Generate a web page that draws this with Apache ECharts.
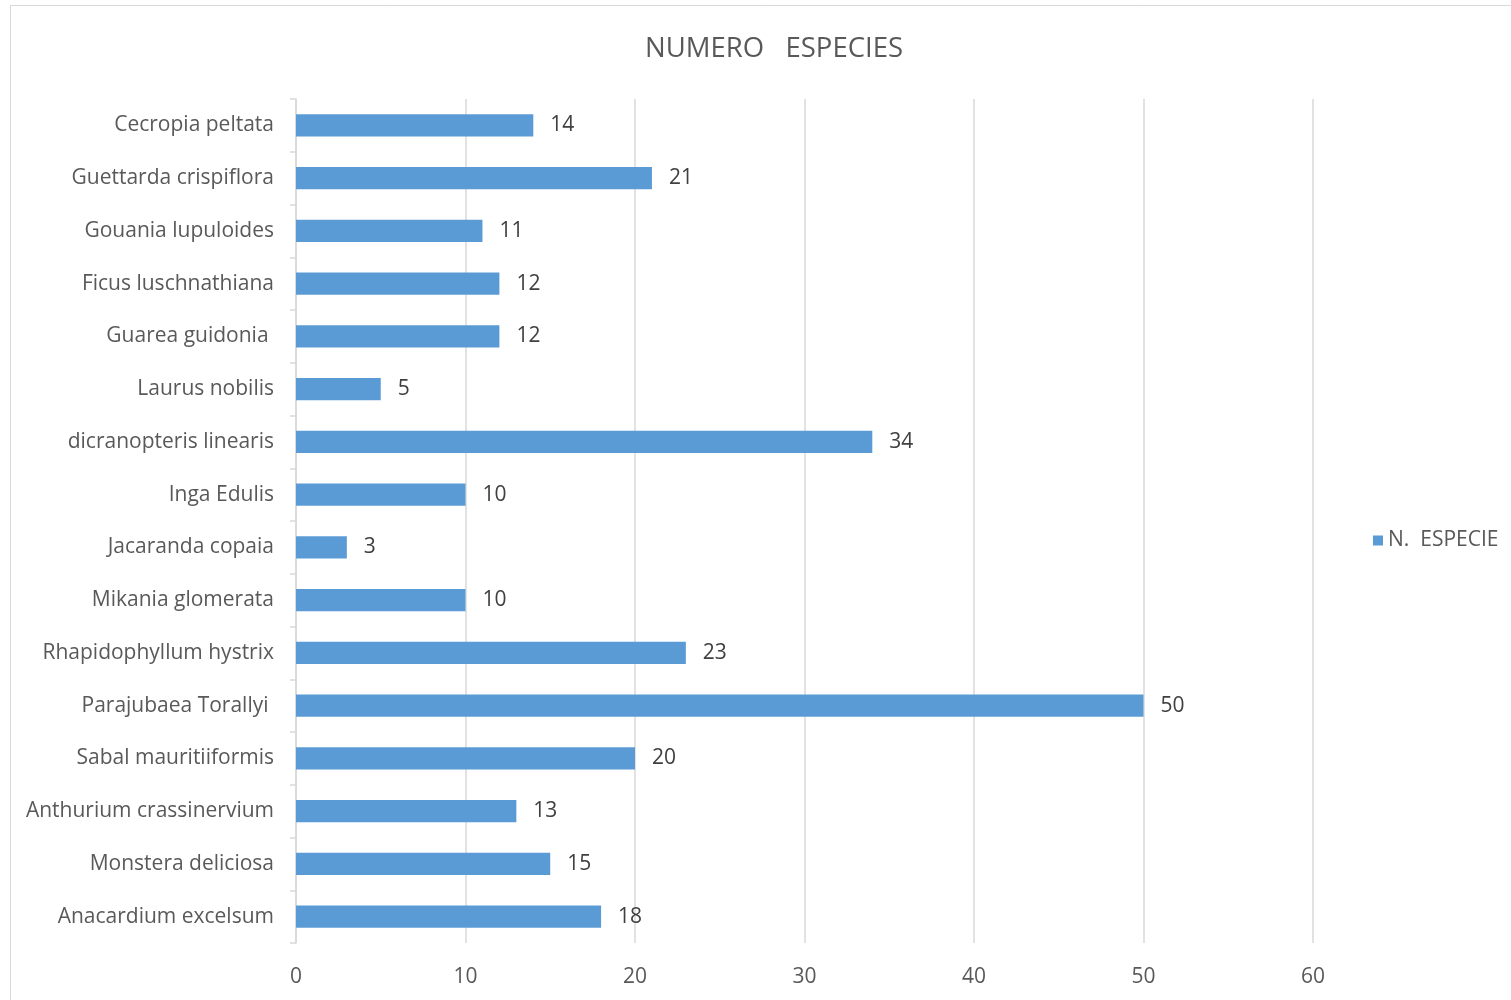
<!DOCTYPE html>
<html><head><meta charset="utf-8">
<script src="https://cdn.jsdelivr.net/npm/echarts@6/dist/echarts.min.js"></script>
<style>html,body{margin:0;padding:0;background:#fff}#c{width:1511px;height:1000px}</style>
</head><body><div id="c"></div>
<script>
const categories = ["Cecropia peltata","Guettarda crispiflora","Gouania lupuloides","Ficus luschnathiana","Guarea guidonia ","Laurus nobilis","dicranopteris linearis","Inga Edulis","Jacaranda copaia","Mikania glomerata","Rhapidophyllum hystrix","Parajubaea Torallyi ","Sabal mauritiiformis","Anthurium crassinervium","Monstera deliciosa","Anacardium excelsum"];
const values = [14,21,11,12,12,5,34,10,3,10,23,50,20,13,15,18];
const xTicks = [0,10,20,30,40,50,60];
const FONT = "Open Sans";
const chart = echarts.init(document.getElementById('c'));
chart.setOption({
  animation:false,
  textStyle:{fontFamily:FONT},
  graphic:[{type:'rect',shape:{x:10.5,y:5.5,width:1600,height:1100},style:{fill:'none',stroke:'#d9d9d9',lineWidth:1},silent:true}],
  title:{text:'NUMERO   ESPECIES',left:769,top:30,textAlign:'center',textStyle:{fontFamily:FONT,fontSize:27.5,fontWeight:'normal',color:'#595959'}},
  legend:{data:['N.  ESPECIE'],left:1368,top:525,itemWidth:10,itemHeight:10,itemGap:8,icon:'rect',textStyle:{fontFamily:FONT,fontSize:21,color:'#595959'}},
  grid:{left:296,right:198,top:99,bottom:57,containLabel:false},
  xAxis:{type:'value',min:xTicks[0],max:xTicks[xTicks.length-1],interval:10,
    axisLine:{show:false},axisTick:{show:false},
    axisLabel:{fontFamily:FONT,fontSize:21,color:'#595959',margin:24},
    splitLine:{show:true,lineStyle:{color:'#d9d9d9',width:1.5}}},
  yAxis:{type:'category',data:categories,inverse:true,
    axisLine:{show:true,lineStyle:{color:'#d9d9d9',width:1.5}},
    axisTick:{show:true,length:6,lineStyle:{color:'#d9d9d9',width:1.5},alignWithLabel:false},
    axisLabel:{fontFamily:FONT,fontSize:21,color:'#595959',margin:22,padding:[5,0,0,0]}},
  series:[{name:'N.  ESPECIE',type:'bar',data:values,barCategoryGap:'58%',
    itemStyle:{color:'#5b9bd5'},
    label:{show:true,position:'right',distance:17,fontFamily:FONT,fontSize:21,color:'#404040',padding:[5,0,0,0]}}]
});
</script></body></html>
